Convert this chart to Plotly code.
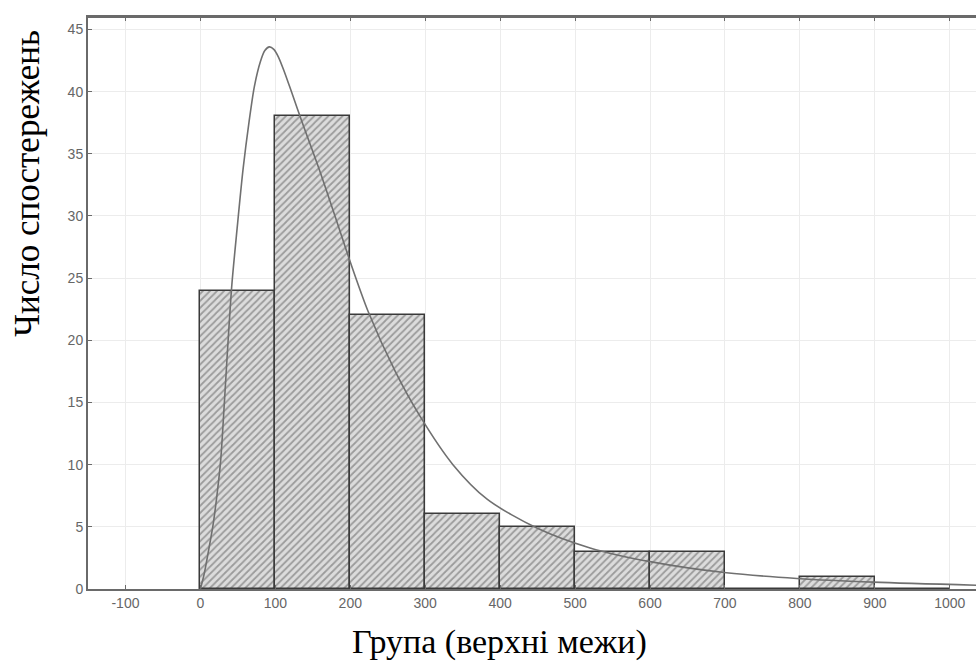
import plotly.graph_objects as go

# Histogram data (bin lower edges, counts)
bin_left = [0, 100, 200, 300, 400, 500, 600, 700, 800, 900]
bin_width = 100
counts = [24, 38, 22, 6, 5, 3, 3, 0, 1, 0]

# Fitted curve
curve_x = [0, 5, 10, 17, 22, 27, 32, 37, 42, 49, 57, 65, 72, 80, 86, 92, 98, 104, 112, 122, 136,
           160, 184, 200, 224, 260, 293, 337, 383, 449, 520, 600, 702, 796, 898, 1035]
curve_y = [0, 1.2, 2.8, 5.2, 7.5, 10.3, 15, 20, 24.5, 29, 33.8, 37.6, 40.4, 42.4, 43.3, 43.6, 43.4,
           42.8, 41.6, 39.9, 37.5, 33.5, 29.2, 26.3, 22.3, 17.5, 13.9, 10.0, 7.2, 4.9, 3.3, 2.2,
           1.3, 0.85, 0.55, 0.3]

x_ticks = [-100, 0, 100, 200, 300, 400, 500, 600, 700, 800, 900, 1000]
y_ticks = [0, 5, 10, 15, 20, 25, 30, 35, 40, 45]

centers = [b + bin_width / 2 for b in bin_left]

fig = go.Figure()
fig.add_trace(go.Bar(
    x=centers, y=counts, width=[bin_width] * len(counts),
    marker=dict(color="#d9d9d9",
                line=dict(color="#3a3a3a", width=1.5),
                pattern=dict(shape="/", fgcolor="#5a5a5a", bgcolor="#dcdcdc",
                             size=5, solidity=0.35)),
    showlegend=False, hoverinfo="x+y"))
fig.add_trace(go.Scatter(
    x=curve_x, y=curve_y, mode="lines",
    line=dict(color="#707070", width=1.6, shape="spline", smoothing=0.8),
    showlegend=False))

tickfont = dict(family="Liberation Sans, Arial", size=14, color="#666666")
fig.update_layout(
    width=976, height=662,
    margin=dict(l=88, r=0, t=17, b=73),
    paper_bgcolor="white", plot_bgcolor="white",
    bargap=0,
    xaxis=dict(range=[-150, 1035], tickvals=x_ticks, ticktext=[str(v) for v in x_ticks],
               showgrid=True, gridcolor="#ececec", gridwidth=1,
               showline=True, linecolor="#6a6a6a", linewidth=2, mirror="ticks",
               ticks="inside", ticklen=4, tickcolor="#6a6a6a",
               tickfont=tickfont, zeroline=False),
    yaxis=dict(range=[0, 46], tickvals=y_ticks,
               showgrid=True, gridcolor="#ececec", gridwidth=1,
               showline=True, linecolor="#6a6a6a", linewidth=2,
               ticks="inside", ticklen=4, tickcolor="#6a6a6a",
               tickfont=tickfont, zeroline=False),
    annotations=[
        dict(text="Число спостережень", xref="paper", yref="paper",
             x=-0.0676, y=0.71, xanchor="center", yanchor="middle",
             textangle=-90, showarrow=False,
             font=dict(family="Liberation Serif, Times New Roman", size=35, color="black")),
        dict(text="Група (верхні межи)", xref="paper", yref="paper",
             x=0.463, y=-0.093, xanchor="center", yanchor="middle",
             showarrow=False,
             font=dict(family="Liberation Serif, Times New Roman", size=34, color="black")),
    ],
)
# top frame line
fig.add_shape(type="line", xref="paper", yref="paper", x0=0, x1=1, y0=1, y1=1,
              line=dict(color="#6a6a6a", width=2))

fig.write_html("out.html")
